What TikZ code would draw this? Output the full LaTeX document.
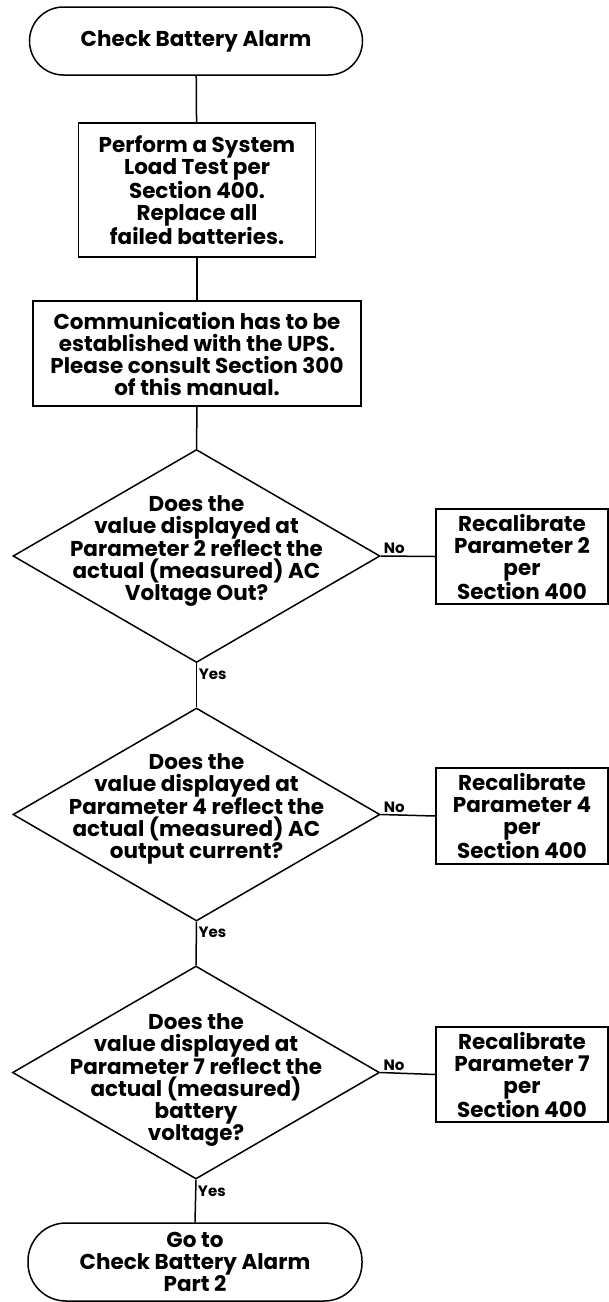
\documentclass[tikz,border=0pt]{standalone}
\usepackage{fontspec}
\setmainfont{Poppins}
\usetikzlibrary{shapes.geometric}
\tikzset{
  terminal/.style={draw, line width=1.5pt, rounded corners=34pt, minimum width=333pt, align=center, font=\chartfont},
  procbox/.style={draw, line width=1.5pt, align=center, inner sep=0pt, font=\chartfont},
  decision/.style={draw, diamond, line width=1.5pt, minimum width=367pt, minimum height=213pt, inner sep=0pt},
  asktext/.style={align=center, font=\chartfont},
  link/.style={line width=1.5pt},
  answer/.style={font=\bfseries\fontsize{15}{16}\selectfont, inner sep=1.5pt}
}
\newcommand{\chartfont}{\bfseries\fontsize{21.5}{22}\selectfont}
\begin{document}
\begin{tikzpicture}[x=1pt,y=-1pt]
  \useasboundingbox (0,0) rectangle (609,1302);
  % main column
  \node[terminal, minimum height=68pt] (start) at (196,41) {Check Battery Alarm};
  \node[procbox, minimum width=237pt, minimum height=134pt] (loadtest) at (197,190)
    {Perform a System\\Load Test per\\Section 400.\\Replace all\\failed batteries.};
  \node[procbox, minimum width=328pt, minimum height=105pt] (comms) at (197,353.5)
    {Communication has to be\\established with the UPS.\\Please consult Section 300\\of this manual.};
  \node[decision] (par2) at (196.5,556) {};
  \node[asktext] at (196.5,551)
    {Does the\\value displayed at\\Parameter 2 reflect the\\actual (measured) AC\\Voltage Out?};
  \node[decision] (par4) at (196.5,814.5) {};
  \node[asktext] at (196.5,809)
    {Does the\\value displayed at\\Parameter 4 reflect the\\actual (measured) AC\\output current?};
  \node[decision] (par7) at (196,1072.5) {};
  \node[asktext] at (196,1080)
    {Does the\\value displayed at\\Parameter 7 reflect the\\actual (measured)\\battery\\voltage?};
  \node[terminal, minimum width=334pt, minimum height=78pt, rounded corners=38pt] (part2) at (195,1262)
    {Go to\\Check Battery Alarm\\Part 2};
  % recalibration boxes
  \node[procbox, minimum width=172pt, minimum height=95pt] (recal2) at (522,556.5)
    {Recalibrate\\Parameter 2\\per\\Section 400};
  \node[procbox, minimum width=172pt, minimum height=96pt] (recal4) at (522,816)
    {Recalibrate\\Parameter 4\\per\\Section 400};
  \node[procbox, minimum width=172pt, minimum height=95pt] (recal7) at (522,1074.5)
    {Recalibrate\\Parameter 7\\per\\Section 400};
  % connectors
  \draw[link] (start) -- (loadtest);
  \draw[link] (loadtest) -- (comms);
  \draw[link] (comms.south) -- (par2.north);
  \draw[link] (par2.south) -- node[answer, pos=0.25, anchor=west] {Yes} (par4.north);
  \draw[link] (par4.south) -- node[answer, pos=0.25, anchor=west] {Yes} (par7.north);
  \draw[link] (par7.south) -- node[answer, pos=0.27, anchor=west] {Yes} (part2.north);
  \draw[link] (par2.east) -- node[answer, pos=0.25, anchor=south] {No} (recal2.west);
  \draw[link] (par4.east) -- node[answer, pos=0.25, anchor=south] {No} (recal4.west);
  \draw[link] (par7.east) -- node[answer, pos=0.25, anchor=south] {No} (recal7.west);
\end{tikzpicture}
\end{document}
